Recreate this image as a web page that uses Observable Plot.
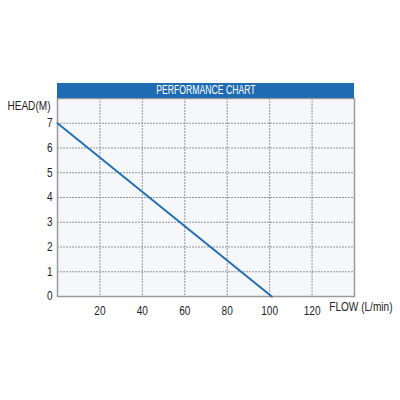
<!DOCTYPE html>
<html>
<head>
<meta charset="utf-8">
<script src="https://cdn.jsdelivr.net/npm/d3@7"></script>
<script src="https://cdn.jsdelivr.net/npm/@observablehq/plot@0.6"></script>
<style>
  body { margin: 0; background: #fff; }
  #wrap { position: relative; width: 400px; height: 400px; font-family: "Liberation Sans", Arial, sans-serif; }
  #banner { position: absolute; left: 57px; top: 83px; width: 297px; height: 15px; background: #1f6cb4; color: #fff;
            font-size: 12px; line-height: 15px; text-align: center; overflow: hidden; }
  #banner span { display: inline-block; transform: scaleX(0.72); }
</style>
</head>
<body>
<div id="wrap"></div>
<script>
const flow = [0, 101];
const head = [7, 0];
const xTicks = [20, 40, 60, 80, 100, 120];
const yTicks = [0, 1, 2, 3, 4, 5, 6, 7];
const xGrid = [20, 40, 60, 80, 100, 120];
const yGrid = [1, 2, 3, 4, 5, 6, 7];
const xLabel = "FLOW (L/min)";
const yLabel = "HEAD(M)";
const title = "PERFORMANCE CHART";

const data = flow.map((f, i) => ({flow: f, head: head[i]}));

const chart = Plot.plot({
  width: 400,
  height: 400,
  marginLeft: 57,
  marginRight: 46,
  marginTop: 98,
  marginBottom: 104,
  style: {fontFamily: '"Liberation Sans", Arial, sans-serif', fontSize: "12px", color: "#222", background: "transparent"},
  x: {domain: [0, 140]},
  y: {domain: [0, 8]},
  marks: [
    Plot.frame({fill: "#f6f7fb", stroke: null}),
    Plot.gridX(xGrid, {stroke: "#8a8a8a", strokeOpacity: 0.9, strokeDasharray: "2,1"}),
    Plot.gridY(yGrid, {stroke: "#8a8a8a", strokeOpacity: 0.9, strokeDasharray: "2,1"}),
    Plot.frame({stroke: "#9a9a9a", strokeWidth: 1.5}),
    Plot.axisX(xTicks, {tickSize: 0, tickPadding: 10, label: null, fontSize: 12}),
    Plot.axisY(yTicks, {tickSize: 0, tickPadding: 5, label: null, fontSize: 12}),
    Plot.text([xLabel], {frameAnchor: "bottom-right", dx: 38, dy: 14, textAnchor: "end", fontSize: 12}),
    Plot.text([yLabel], {frameAnchor: "top-left", dx: -7, dy: 3, textAnchor: "end", fontSize: 12}),
    Plot.line(data, {x: "flow", y: "head", stroke: "#2370b5", strokeWidth: 2})
  ]
});
chart.querySelectorAll("text").forEach(t => {
  const tr = t.getAttribute("transform");
  if (tr) t.setAttribute("transform", tr + " scale(0.84,1)");
});
const wrap = document.getElementById("wrap");
wrap.appendChild(chart);
chart.style.position = "absolute";
chart.style.left = "0";
chart.style.top = "0";
const banner = document.createElement("div");
banner.id = "banner";
const span = document.createElement("span");
span.textContent = title;
banner.appendChild(span);
wrap.appendChild(banner);
</script>
</body>
</html>
